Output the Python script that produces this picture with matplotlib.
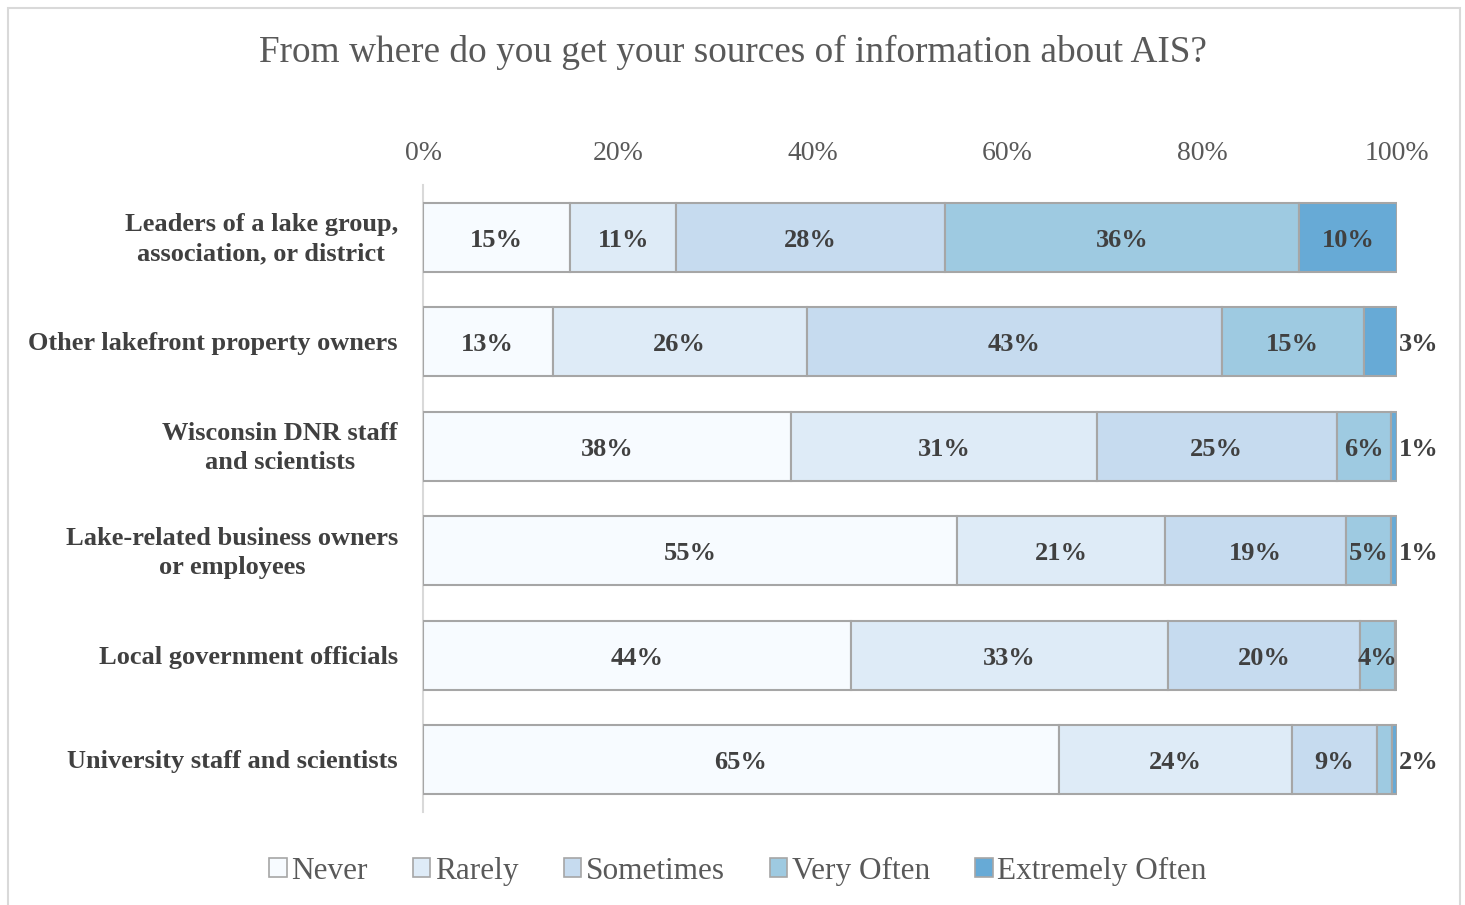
"""
Stacked horizontal bars: how often respondents get AIS information
from each source (share of responses per frequency level).
"""
import matplotlib.pyplot as plt
import matplotlib as mpl
from matplotlib.patches import Patch, Rectangle

mpl.rcParams.update({
    "font.family": ["Liberation Serif", "DejaVu Serif"],
})

TEXT_GRAY = "#595959"
LABEL_DARK = "#404040"
EDGE = "#A6A6A6"
FRAME = "#D9D9D9"

sources = [
    "Leaders of a lake group,\nassociation, or district",
    "Other lakefront property owners",
    "Wisconsin DNR staff\nand scientists",
    "Lake-related business owners\nor employees",
    "Local government officials",
    "University staff and scientists",
]
levels = ["Never", "Rarely", "Sometimes", "Very Often", "Extremely Often"]
colors = ["#F7FBFF", "#DEEBF7", "#C6DBEF", "#9ECAE1", "#67AAD6"]

# percent of respondents per level, one list per level (rows follow `sources`)
never      = [15.1, 13.3, 37.8, 54.8, 43.9, 65.3]
rarely     = [10.9, 26.1, 31.4, 21.4, 32.6, 23.9]
sometimes  = [27.6, 42.6, 24.6, 18.6, 19.7, 8.7]
very_often = [36.3, 14.6, 5.6, 4.6, 3.6, 1.6]
extremely  = [10.1, 3.4, 0.6, 0.6, 0.2, 0.5]
series = [never, rarely, sometimes, very_often, extremely]

xticks = [0, 20, 40, 60, 80, 100]

fig = plt.figure(figsize=(14.65, 9.05), dpi=100)
ax = fig.add_axes([423 / 1465, 1 - 812 / 905, 974 / 1465, 627 / 905])

label_kw = dict(textcoords="offset points", va="center", fontsize=19,
                fontweight="bold", color=LABEL_DARK, zorder=4)

y = list(range(len(sources)))
left = [0.0] * len(sources)
for j, (vals, col) in enumerate(zip(series, colors)):
    ax.barh(y, vals, left=left, height=0.66, color=col,
            edgecolor=EDGE, linewidth=1.5, zorder=3)
    for i, v in enumerate(vals):
        txt = f"{v:.0f}%"
        if round(v) >= 1:
            if v < 2 or (j == len(series) - 1 and v < 5):
                # tiny slices get their label just past the end of the bar
                ax.annotate(txt, xy=(100, i), xytext=(1, -2),
                            ha="left", **label_kw)
            else:
                ax.annotate(txt, xy=(left[i] + v / 2, i), xytext=(0, -2),
                            ha="center", **label_kw)
        left[i] += v

ax.set_xlim(0, 100)
ax.set_ylim(len(sources) - 0.5, -0.5)
ax.xaxis.tick_top()
ax.set_xticks(xticks)
ax.set_xticklabels([f"{t}%" for t in xticks])
ax.tick_params(axis="x", length=0, pad=13.5, labelsize=20,
               labelcolor=TEXT_GRAY)
ax.set_yticks([])
for s in ["top", "right", "bottom"]:
    ax.spines[s].set_visible(False)
ax.spines["left"].set_color(FRAME)
ax.spines["left"].set_linewidth(1.5)

for i, name in enumerate(sources):
    ax.annotate(name, xy=(0, i), xycoords=("axes fraction", "data"),
                xytext=(-18, -1.5), textcoords="offset points",
                ha="right", va="center", multialignment="center",
                fontsize=19, fontweight="bold", color=LABEL_DARK,
                linespacing=1.35)

fig.text(0.5, 1 - 52 / 905,
         "From where do you get your sources of information about AIS?",
         ha="center", va="center", fontsize=26.8, color=TEXT_GRAY)

handles = [Patch(facecolor=c, edgecolor=EDGE, linewidth=1.2, label=l)
           for c, l in zip(colors, levels)]
fig.legend(handles=handles, loc="center", ncol=5, frameon=False,
           bbox_to_anchor=(738 / 1465, 1 - 871 / 905),
           fontsize=22.5, labelcolor=TEXT_GRAY, handlelength=0.55,
           handleheight=0.55, handletextpad=0.15, columnspacing=1.45)

# chart frame
fig.patches.append(Rectangle((8 / 1465, -0.02), 1452 / 1465, 1.02 - 8 / 905,
                             transform=fig.transFigure, fill=False,
                             edgecolor=FRAME, linewidth=1.5))

fig.savefig("out.png", dpi=100)
